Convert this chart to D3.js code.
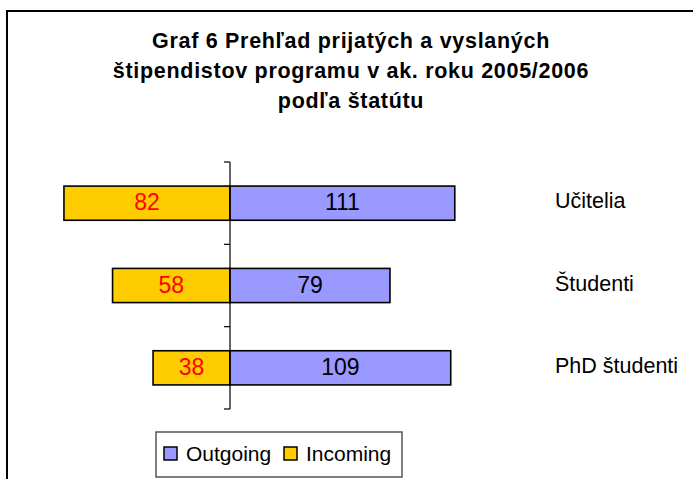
<!DOCTYPE html>
<html>
<head>
<meta charset="utf-8">
<script src="https://cdn.jsdelivr.net/npm/d3@7"></script>
<style>
  body { margin: 0; background: #fff; }
  text { font-family: "Liberation Sans", Arial, sans-serif; }
</style>
</head>
<body>
<svg id="chart" width="693" height="479"></svg>
<script>
// data
const titleLines = [
  "Graf 6 Prehľad prijatých a vyslaných",
  "štipendistov programu v ak. roku 2005/2006",
  "podľa štatútu"
];
const categories = ["Učitelia", "Študenti", "PhD študenti"];
const outgoing = [111, 79, 109];
const incoming = [82, 58, 38];
const seriesNames = ["Outgoing", "Incoming"];
const seriesColors = ["#9999FF", "#FFCC00"];

const svg = d3.select("#chart");

// chart frame (right and bottom edges fall outside the picture)
svg.append("rect")
  .attr("x", 7).attr("y", 11)
  .attr("width", 720).attr("height", 520)
  .attr("fill", "#fff")
  .attr("stroke", "#000")
  .attr("stroke-width", 2);

// title
svg.append("g").selectAll("text")
  .data(titleLines)
  .join("text")
  .attr("x", 351)
  .attr("y", (d, i) => 48 + i * 30)
  .attr("text-anchor", "middle")
  .attr("font-size", 21.5)
  .attr("font-weight", "bold")
  .attr("letter-spacing", 0.7)
  .text(d => d);

const x = d3.scaleLinear()
  .domain([-100, 150])
  .range([27.5, 533.75]);

const yAxis = d3.scaleBand()
  .domain(categories)
  .range([162, 409]);

const y = d3.scaleBand()
  .domain(categories)
  .range([162, 409])
  .paddingInner(0.585)
  .paddingOuter(0.2925);

const rows = categories.map((c, i) => ({ cat: c, out: outgoing[i], inc: incoming[i] }));

// incoming bars (to the left of zero)
svg.append("g").selectAll("rect")
  .data(rows)
  .join("rect")
  .attr("x", d => x(-d.inc))
  .attr("y", d => y(d.cat))
  .attr("width", d => x(0) - x(-d.inc))
  .attr("height", y.bandwidth())
  .attr("fill", seriesColors[1])
  .attr("stroke", "#000")
  .attr("stroke-width", 1.6);

// outgoing bars
svg.append("g").selectAll("rect")
  .data(rows)
  .join("rect")
  .attr("x", x(0))
  .attr("y", d => y(d.cat))
  .attr("width", d => x(d.out) - x(0))
  .attr("height", y.bandwidth())
  .attr("fill", seriesColors[0])
  .attr("stroke", "#000")
  .attr("stroke-width", 1.6);

// value labels
svg.append("g").selectAll("text")
  .data(rows)
  .join("text")
  .attr("x", d => (x(-d.inc) + x(0)) / 2)
  .attr("y", d => y(d.cat) + y.bandwidth() / 2 + 7)
  .attr("text-anchor", "middle")
  .attr("font-size", 23)
  .attr("fill", "#FF0000")
  .text(d => d.inc);

svg.append("g").selectAll("text")
  .data(rows)
  .join("text")
  .attr("x", d => (x(d.out) + x(0)) / 2)
  .attr("y", d => y(d.cat) + y.bandwidth() / 2 + 7)
  .attr("text-anchor", "middle")
  .attr("font-size", 23)
  .attr("fill", "#000")
  .text(d => d.out);

// vertical category axis at zero with ticks between categories
const axisG = svg.append("g");
axisG.append("line")
  .attr("x1", x(0)).attr("x2", x(0))
  .attr("y1", yAxis.range()[0]).attr("y2", yAxis.range()[1])
  .attr("stroke", "#000")
  .attr("stroke-width", 1.2);
const tickPos = categories.map(c => yAxis(c)).concat([yAxis.range()[1]]);
axisG.selectAll(".tick")
  .data(tickPos)
  .join("line")
  .attr("class", "tick")
  .attr("x1", x(0) - 6).attr("x2", x(0))
  .attr("y1", d => d).attr("y2", d => d)
  .attr("stroke", "#000")
  .attr("stroke-width", 1.2);

// category labels on the right
svg.append("g").selectAll("text")
  .data(categories)
  .join("text")
  .attr("x", 555)
  .attr("y", d => y(d) + y.bandwidth() / 2 + 5)
  .attr("font-size", 21.5)
  .text(d => d);

// legend
const legend = svg.append("g");
legend.append("rect")
  .attr("x", 156).attr("y", 432)
  .attr("width", 246).attr("height", 45)
  .attr("fill", "#fff")
  .attr("stroke", "#555")
  .attr("stroke-width", 1.5);
const legendX = [164, 284];
seriesNames.forEach((name, i) => {
  legend.append("rect")
    .attr("x", legendX[i]).attr("y", 447)
    .attr("width", 13).attr("height", 13)
    .attr("fill", seriesColors[i])
    .attr("stroke", "#000")
    .attr("stroke-width", 1.5);
  legend.append("text")
    .attr("x", legendX[i] + 22).attr("y", 461)
    .attr("font-size", 21)
    .text(name);
});
</script>
</body>
</html>
